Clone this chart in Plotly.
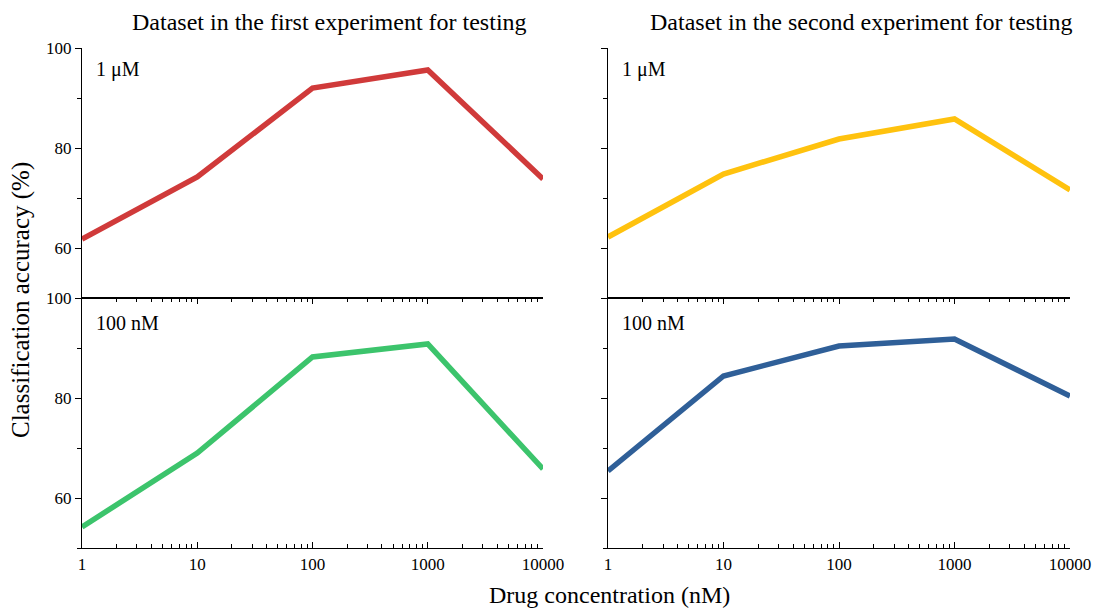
import plotly.graph_objects as go

conc = [1, 10, 100, 1000, 10000]
exp1_1uM = [61.8, 74.2, 92.0, 95.6, 73.8]
exp2_1uM = [62.2, 74.8, 81.8, 85.8, 71.6]
exp1_100nM = [54.2, 69.0, 88.2, 90.8, 65.8]
exp2_100nM = [65.4, 84.4, 90.4, 91.8, 80.4]

x_ticks = [1, 10, 100, 1000, 10000]
x_ticklabels = ["1", "10", "100", "1000", "10000"]
y_major = [60, 80, 100]
y_minor = [50, 70, 90]
titles = ["Dataset in the first experiment for testing", "Dataset in the second experiment for testing"]
panel_labels = ["1 \u03bcM", "100 nM"]

W, H = 1093, 608
FONT = "Liberation Serif"

def px(v):
    return v / W

def py(v):
    return 1 - v / H

xdom = {"L": [px(82), px(543)], "R": [px(608), px(1070)]}
ydom = {"T": [py(298), py(48)], "B": [py(548), py(298)]}

minor_x = [m * 10 ** d for d in range(4) for m in range(2, 10)]

fig = go.Figure()

panels = [
    ("x", "y", "L", "T", exp1_1uM, "#D03A3A"),
    ("x2", "y2", "R", "T", exp2_1uM, "#FFC20E"),
    ("x3", "y3", "L", "B", exp1_100nM, "#3CC46C"),
    ("x4", "y4", "R", "B", exp2_100nM, "#2F5F98"),
]

for xa, ya, col, row, vals, color in panels:
    fig.add_trace(go.Scatter(x=conc, y=vals, mode="lines", xaxis=xa, yaxis=ya,
                             line=dict(color=color, width=5.5), showlegend=False))

layout = {}
for i, (xa, ya, col, row, vals, color) in enumerate(panels):
    xkey = "xaxis" if xa == "x" else "xaxis" + xa[1:]
    ykey = "yaxis" if ya == "y" else "yaxis" + ya[1:]
    bottom = row == "B"
    layout[xkey] = dict(
        type="log", range=[0, 4], domain=xdom[col], anchor=ya, automargin=False,
        showline=True, linecolor="black", linewidth=1.3, showgrid=False, zeroline=False,
        tickmode="array", tickvals=x_ticks, ticktext=x_ticklabels,
        ticks="inside" if bottom else "", ticklen=6, tickwidth=1.2, tickcolor="black",
        mirror="ticks" if bottom else False,
        showticklabels=bottom,
        tickfont=dict(family=FONT, size=17, color="black"),
        minor=dict(tickvals=minor_x, ticks="inside" if bottom else "", ticklen=3.5,
                   tickwidth=1.1, tickcolor="black", showgrid=False),
    )
    layout[ykey] = dict(
        range=[50, 100], domain=ydom[row], anchor=xa, automargin=False,
        showline=True, linecolor="black", linewidth=1.3, showgrid=False, zeroline=False,
        tickmode="array", tickvals=y_major, ticks="outside", ticklen=6, tickwidth=1.2,
        tickcolor="black", showticklabels=(col == "L"),
        tickfont=dict(family=FONT, size=17, color="black"),
        minor=dict(tickvals=y_minor, ticks="outside", ticklen=3.5, tickwidth=1.1,
                   tickcolor="black", showgrid=False),
    )

def ann(text, x, y, size, xanchor="center", angle=0):
    return dict(text=text, x=px(x), y=py(y), xref="paper", yref="paper",
                xanchor=xanchor, yanchor="middle", showarrow=False, textangle=angle,
                font=dict(family=FONT, size=size, color="black"))

annotations = [
    ann(titles[0], 329, 22, 24),
    ann(titles[1], 861, 22, 24),
    ann("Drug concentration (nM)", 609, 595, 24),
    ann("Classification accuracy (%)", 21, 300, 25, angle=-90),
]
for colx in [94, 620]:
    annotations.append(ann(panel_labels[0], colx, 69, 20, xanchor="left"))
    annotations.append(ann(panel_labels[1], colx, 323, 20, xanchor="left"))

fig.update_layout(
    width=W, height=H, autosize=False, margin=dict(l=0, r=0, t=0, b=0, pad=0),
    paper_bgcolor="white", plot_bgcolor="white",
    annotations=annotations, **layout,
)

fig.write_html("out.html", config={"responsive": False})
